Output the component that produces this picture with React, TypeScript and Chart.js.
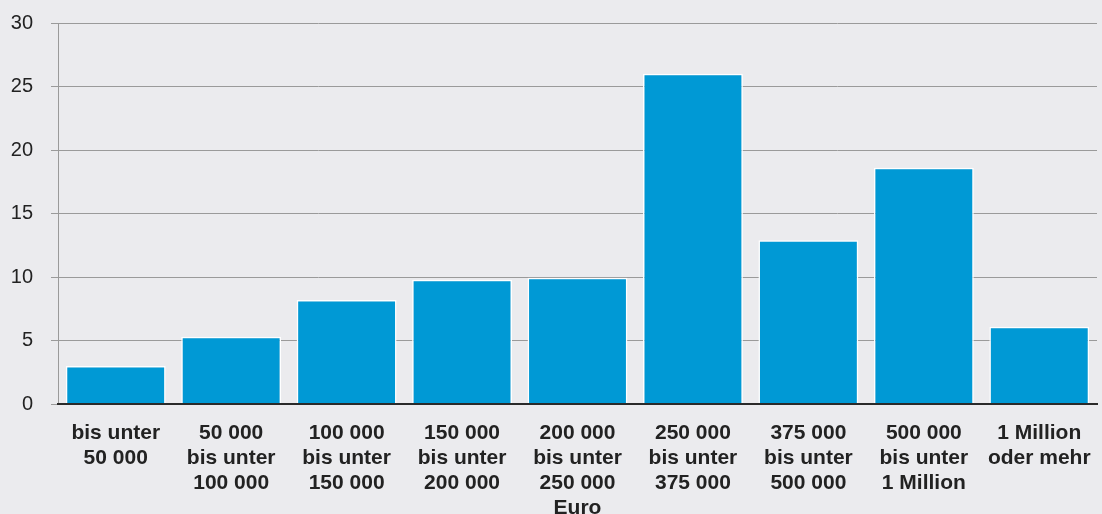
import React, { useEffect, useRef } from "react";
import { Chart, registerables } from "chart.js";

Chart.register(...registerables);

const categories: string[][] = [
  ["bis unter", "50 000"],
  ["50 000", "bis unter", "100 000"],
  ["100 000", "bis unter", "150 000"],
  ["150 000", "bis unter", "200 000"],
  ["200 000", "bis unter", "250 000", "Euro"],
  ["250 000", "bis unter", "375 000"],
  ["375 000", "bis unter", "500 000"],
  ["500 000", "bis unter", "1 Million"],
  ["1 Million", "oder mehr"],
];

const values: number[] = [3.0, 5.3, 8.2, 9.8, 9.95, 26.0, 12.9, 18.6, 6.1];

const yMin = 0;
const yMax = 30;
const yStep = 5;

export default function App() {
  const canvasRef = useRef<HTMLCanvasElement | null>(null);

  useEffect(() => {
    document.body.style.margin = "0";
    document.body.style.background = "#ebebee";
    const canvas = canvasRef.current;
    if (!canvas) return;
    const chart = new Chart(canvas, {
      type: "bar",
      data: {
        labels: categories,
        datasets: [
          {
            data: values,
            backgroundColor: "#0099d5",
            borderColor: "#ffffff",
            borderWidth: 1.5,
            borderSkipped: "start",
            barPercentage: 0.865,
            categoryPercentage: 1,
          },
        ],
      },
      options: {
        responsive: false,
        animation: false,
        layout: { padding: { top: 4, right: 5, left: 10, bottom: 6 } },
        plugins: {
          legend: { display: false },
          tooltip: { enabled: false },
        },
        scales: {
          x: {
            grid: { display: false },
            border: { display: true, color: "#2a2a2a", width: 2, z: 1 },
            ticks: {
              color: "#222222",
              padding: 8,
              maxRotation: 0,
              autoSkip: false,
              font: { family: "'Liberation Sans', Arial, sans-serif", size: 21, weight: "bold", lineHeight: 1.2 },
            },
          },
          y: {
            min: yMin,
            max: yMax,
            afterFit: (scale: any) => {
              scale.width = 48;
            },
            grid: { color: "#9a9a9a", lineWidth: 1, tickLength: 7, drawTicks: true },
            border: { display: true, color: "#9a9a9a", width: 1 },
            ticks: {
              stepSize: yStep,
              color: "#222222",
              padding: 18,
              font: { family: "'Liberation Sans', Arial, sans-serif", size: 20 },
            },
          },
        },
      },
    });
    return () => chart.destroy();
  }, []);

  return (
    <div style={{ width: 1102, height: 514, overflow: "hidden", background: "#ebebee" }}>
      <canvas ref={canvasRef} width={1102} height={542} style={{ display: "block", marginTop: -7 }} />
    </div>
  );
}
